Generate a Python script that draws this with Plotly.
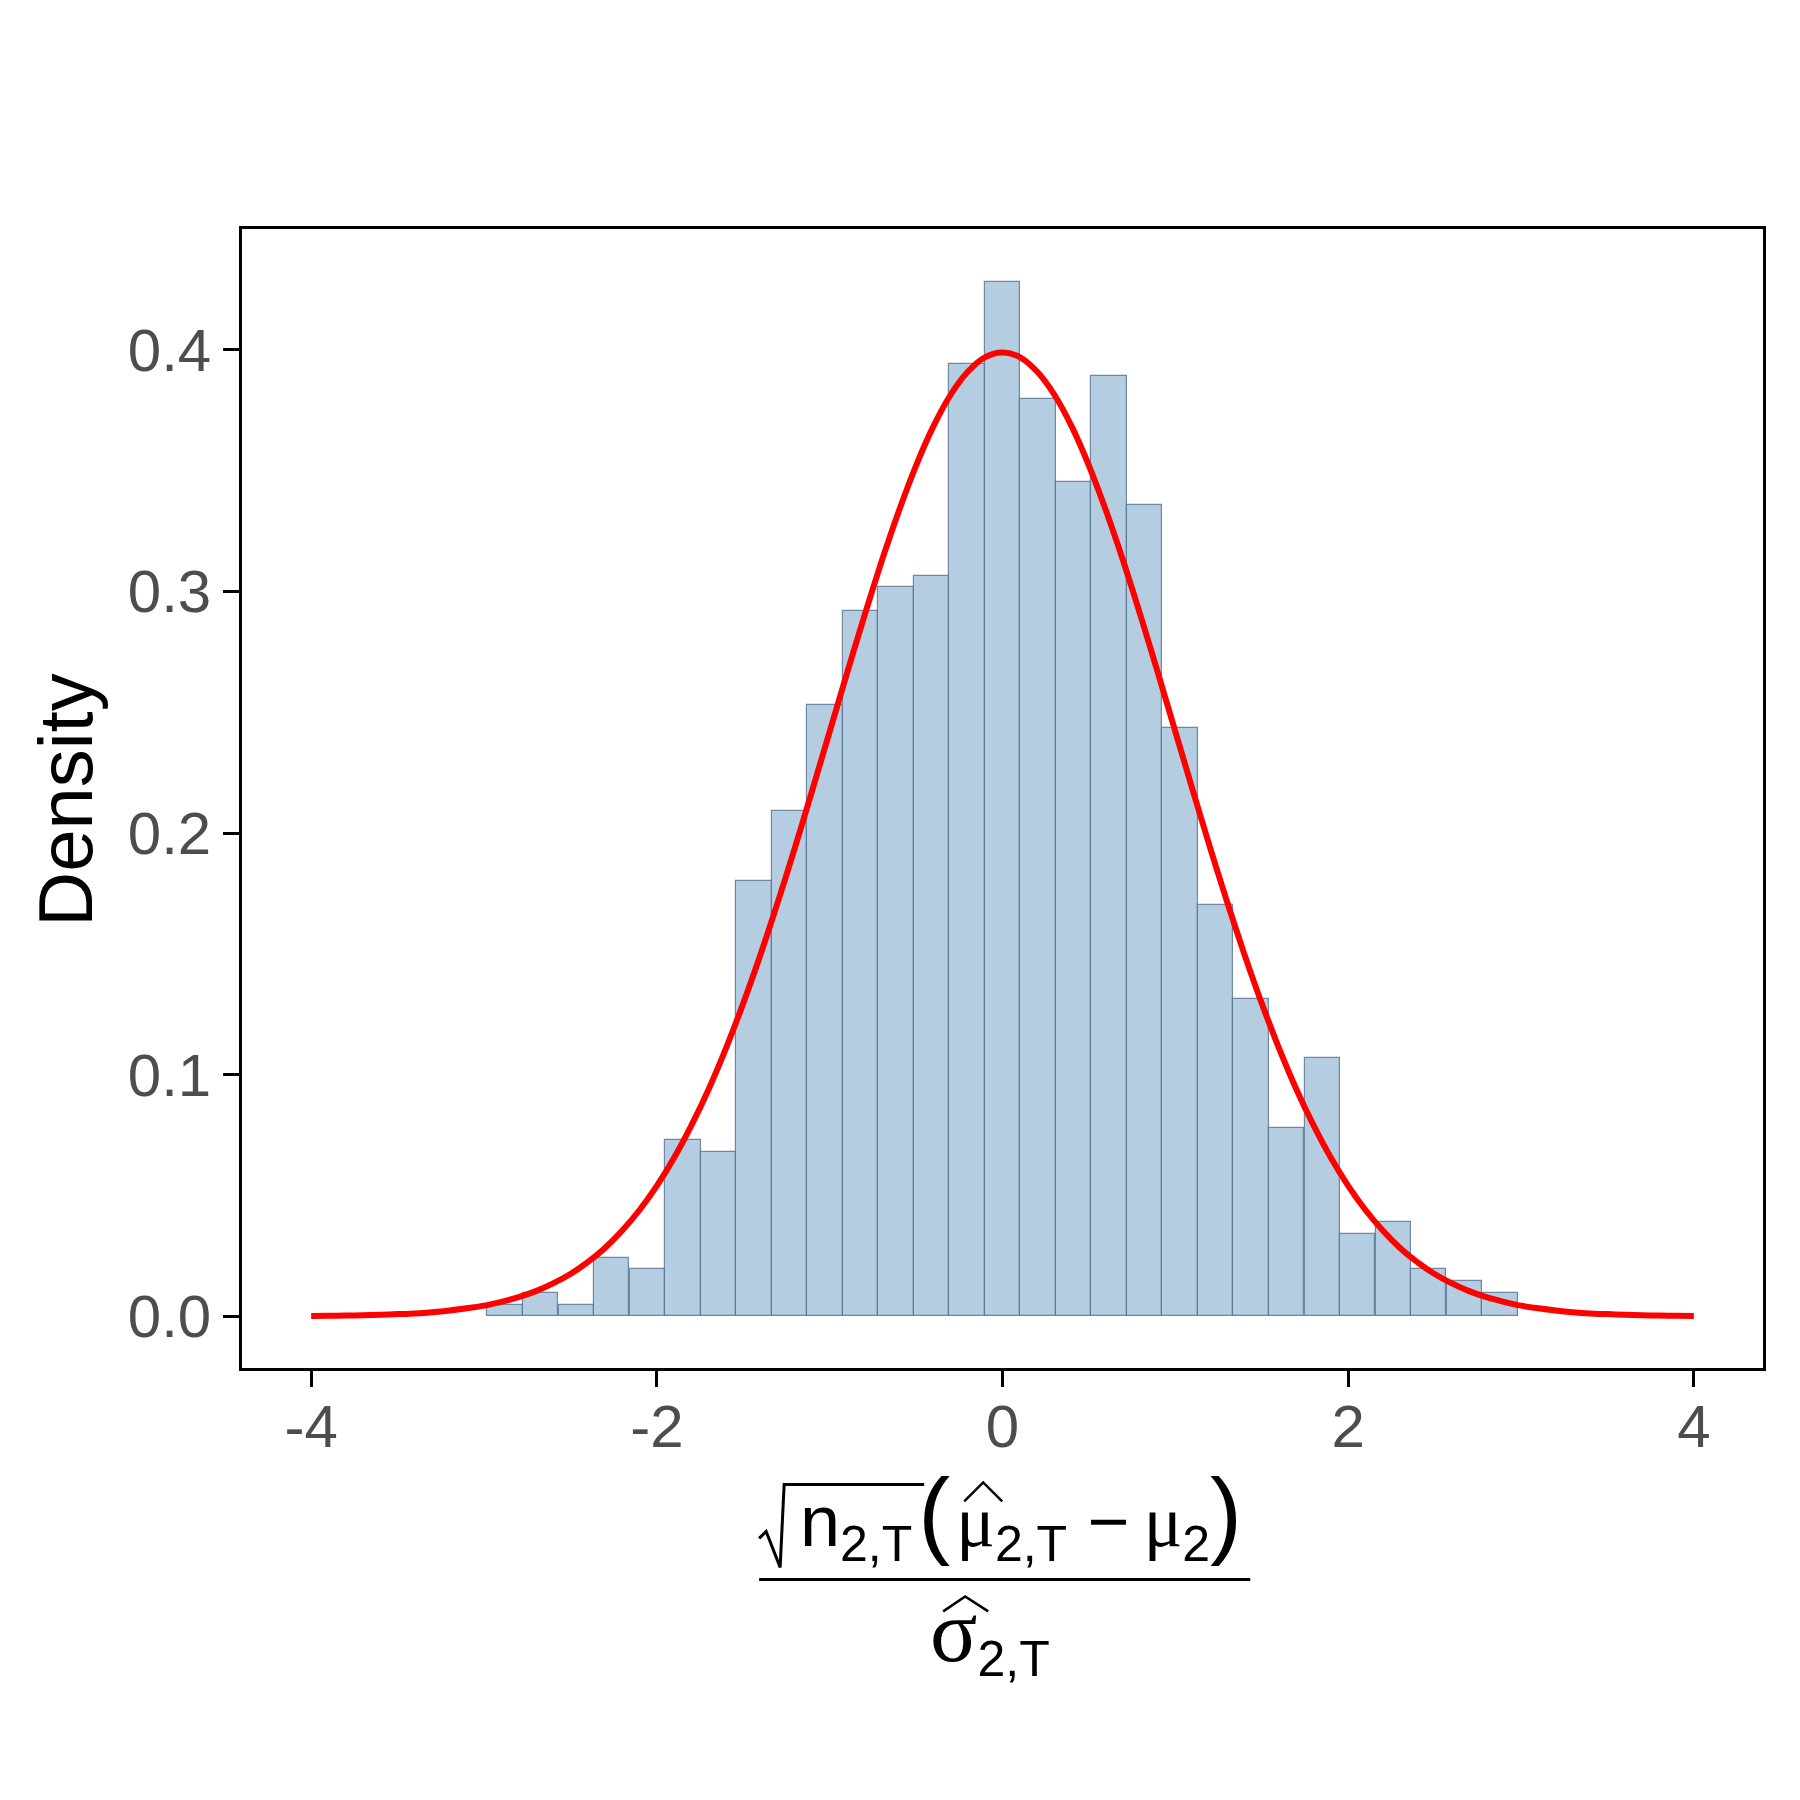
import plotly.graph_objects as go

# histogram of 1000 standardised estimates (bin width ~0.2055, centred on 0)
bin_width = 0.2055
bin_centers = [-2.877, -2.672, -2.466, -2.261, -2.055, -1.850, -1.644, -1.439,
               -1.233, -1.028, -0.822, -0.617, -0.411, -0.206, 0.0,
               0.206, 0.411, 0.617, 0.822, 1.028, 1.233, 1.439, 1.644,
               1.850, 2.055, 2.261, 2.466, 2.672, 2.877]
bin_counts = [1, 2, 1, 5, 4, 15, 14, 37, 43, 52, 60, 62, 63, 81, 88,
              78, 71, 80, 69, 50, 35, 27, 16, 22, 7, 8, 4, 3, 2]
n_obs = 1000
density = [c / (n_obs * bin_width) for c in bin_counts]

# standard normal density, read at steps of 0.1
curve_x = [-4.0, -3.9, -3.8, -3.7, -3.6, -3.5, -3.4, -3.3, -3.2, -3.1,
           -3.0, -2.9, -2.8, -2.7, -2.6, -2.5, -2.4, -2.3, -2.2, -2.1,
           -2.0, -1.9, -1.8, -1.7, -1.6, -1.5, -1.4, -1.3, -1.2, -1.1,
           -1.0, -0.9, -0.8, -0.7, -0.6, -0.5, -0.4, -0.3, -0.2, -0.1,
           0.0, 0.1, 0.2, 0.3, 0.4, 0.5, 0.6, 0.7, 0.8, 0.9,
           1.0, 1.1, 1.2, 1.3, 1.4, 1.5, 1.6, 1.7, 1.8, 1.9,
           2.0, 2.1, 2.2, 2.3, 2.4, 2.5, 2.6, 2.7, 2.8, 2.9,
           3.0, 3.1, 3.2, 3.3, 3.4, 3.5, 3.6, 3.7, 3.8, 3.9, 4.0]
curve_y = [0.0001, 0.0002, 0.0003, 0.0004, 0.0006, 0.0009, 0.0012, 0.0017, 0.0024, 0.0033,
           0.0044, 0.0060, 0.0079, 0.0104, 0.0136, 0.0175, 0.0224, 0.0283, 0.0355, 0.0440,
           0.0540, 0.0656, 0.0790, 0.0940, 0.1109, 0.1295, 0.1497, 0.1714, 0.1942, 0.2179,
           0.2420, 0.2661, 0.2897, 0.3123, 0.3332, 0.3521, 0.3683, 0.3814, 0.3910, 0.3970,
           0.3989, 0.3970, 0.3910, 0.3814, 0.3683, 0.3521, 0.3332, 0.3123, 0.2897, 0.2661,
           0.2420, 0.2179, 0.1942, 0.1714, 0.1497, 0.1295, 0.1109, 0.0940, 0.0790, 0.0656,
           0.0540, 0.0440, 0.0355, 0.0283, 0.0224, 0.0175, 0.0136, 0.0104, 0.0079, 0.0060,
           0.0044, 0.0033, 0.0024, 0.0017, 0.0012, 0.0009, 0.0006, 0.0004, 0.0003, 0.0002, 0.0001]

x_ticks = [-4, -2, 0, 2, 4]
x_tick_text = ["-4", "-2", "0", "2", "4"]
y_ticks = [0.0, 0.1, 0.2, 0.3, 0.4]

# plot area in reference pixels; page body adds an 8px offset
OFF = 8
L, R, T, B = 242, 1762.6, 229, 1368.5
def px(x):
    return (x - L) / (R - L)
def py(y):
    return (B - y) / (B - T)

fig = go.Figure()
fig.add_trace(go.Bar(
    x=bin_centers,
    y=density,
    width=bin_width,
    marker=dict(color='rgba(70,130,180,0.4)',
                line=dict(color='rgba(90,120,150,0.85)', width=1.2)),
    showlegend=False
))
fig.add_trace(go.Scatter(
    x=curve_x,
    y=curve_y,
    mode='lines',
    line=dict(color='red', width=6, shape='spline', smoothing=0.8),
    showlegend=False
))

def sub(s, size=50):
    return f"<sub><span style='font-size:{size}px'>{s}</span></sub>"

mu = "<span style=\"font-family:'Liberation Serif'\">μ</span>"
sigma = "<span style=\"font-family:'Liberation Serif';font-size:88px\">σ</span>"
lpar = "<span style='font-size:96px'>(</span>"
rpar = "<span style='font-size:96px'>)</span>"
numerator = ("n" + sub("2,T") + "\u200a" + lpar + "\u200a" + mu + sub("2,T")
             + "\u00a0−\u2009" + mu + sub("2") + rpar)
denominator = sigma + sub("2,T")

fig.update_layout(
    width=1800,
    height=1800,
    margin=dict(l=L - OFF, r=1800 - R + OFF, t=T - OFF, b=1800 - B + OFF),
    paper_bgcolor='white',
    plot_bgcolor='white',
    bargap=0,
    font=dict(family='Liberation Sans', color='black'),
    xaxis=dict(
        range=[-4.4, 4.4],
        tickvals=x_ticks,
        ticktext=x_tick_text,
        showgrid=False, zeroline=False,
        showline=True, linecolor='black', linewidth=2.5, mirror=True,
        ticks='outside', ticklen=16, tickwidth=3, tickcolor='black',
        ticklabelstandoff=-12,
        tickfont=dict(size=60, color='#4D4D4D'),
    ),
    yaxis=dict(
        range=[-0.0214, 0.45],
        tickvals=y_ticks,
        tickformat='.1f',
        showgrid=False, zeroline=False,
        showline=True, linecolor='black', linewidth=2.5, mirror=True,
        ticks='outside', ticklen=16, tickwidth=3, tickcolor='black',
        tickfont=dict(size=60, color='#4D4D4D'),
    ),
    annotations=[
        dict(text="Density", xref='paper', yref='paper', x=px(66), y=py(800),
             textangle=-90, showarrow=False, font=dict(size=76, color='black'),
             xanchor='center', yanchor='middle'),
        dict(text=numerator, xref='paper', yref='paper', x=px(798), y=py(1516),
             showarrow=False, font=dict(size=72, color='black'),
             xanchor='left', yanchor='middle'),
        dict(text=denominator, xref='paper', yref='paper', x=px(990), y=py(1636),
             showarrow=False, font=dict(size=72, color='black'),
             xanchor='center', yanchor='middle'),
    ],
    shapes=[
        # fraction bar
        dict(type='line', xref='paper', yref='paper', x0=px(759), x1=px(1250),
             y0=py(1580), y1=py(1580), line=dict(color='black', width=3)),
        # radical sign with overline
        dict(type='path', xref='paper', yref='paper',
             path=(f"M {px(759)} {py(1539)} L {px(766)} {py(1532)} L {px(780)} {py(1568)}"
                   f" L {px(784)} {py(1485)} L {px(924)} {py(1485)}"),
             line=dict(color='black', width=3)),
        # hat over mu
        dict(type='path', xref='paper', yref='paper',
             path=f"M {px(964)} {py(1502)} L {px(983)} {py(1483)} L {px(1002)} {py(1502)}",
             line=dict(color='black', width=2.5)),
        # hat over sigma
        dict(type='path', xref='paper', yref='paper',
             path=f"M {px(943)} {py(1612)} L {px(965)} {py(1597)} L {px(988)} {py(1612)}",
             line=dict(color='black', width=2.5)),
    ],
)

fig.write_html("out.html")
